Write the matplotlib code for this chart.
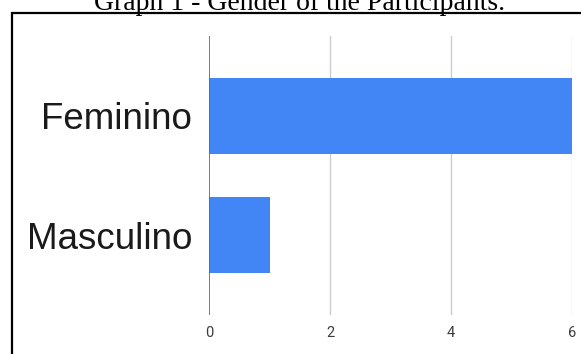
import matplotlib
matplotlib.use("Agg")
import matplotlib.pyplot as plt
from matplotlib.patches import Rectangle

categories = ["Masculino", "Feminino"]
counts = [1, 6]
x_ticks = [0, 2, 4, 6]
title = "Graph 1 - Gender of the Participants."

W, H = 581, 354
fig = plt.figure(figsize=(W / 100, H / 100), dpi=100)

# outer frame around the chart
fig.add_artist(Rectangle((11.5 / W, -0.1), 1.2, 1.1 - 13 / H,
                         transform=fig.transFigure, fill=False,
                         edgecolor="black", linewidth=1.6))

fig.text(300 / W, 1 - 3 / H, title, ha="center", va="center",
         fontsize=20, family="Liberation Serif", color="black")

left, right, top, bottom = 209, 572, 36, 315
ax = fig.add_axes([left / W, 1 - bottom / H, (right - left) / W, (bottom - top) / H])

ax.barh(range(len(categories)), counts, height=0.64, color="#4285F4", zorder=2)
ax.set_xlim(0, 6)
ax.set_ylim(-0.67, 1.67)

for t in x_ticks[1:]:
    ax.axvline(t, color="#cccccc", linewidth=1, zorder=1)
ax.axvline(0, color="#666666", linewidth=1.2, zorder=3)

ax.set_xticks(x_ticks)
ax.set_xticklabels([str(t) for t in x_ticks], family="Roboto", fontsize=10.5, color="#3c3c3c")
ax.tick_params(axis="x", length=0, pad=8)
ax.set_yticks(range(len(categories)))
ax.set_yticklabels(categories, family="Liberation Sans", fontsize=26.5, color="#1a1a1a")
ax.tick_params(axis="y", length=0, pad=12)

for s in ax.spines.values():
    s.set_visible(False)

fig.savefig("out.png", dpi=100)
